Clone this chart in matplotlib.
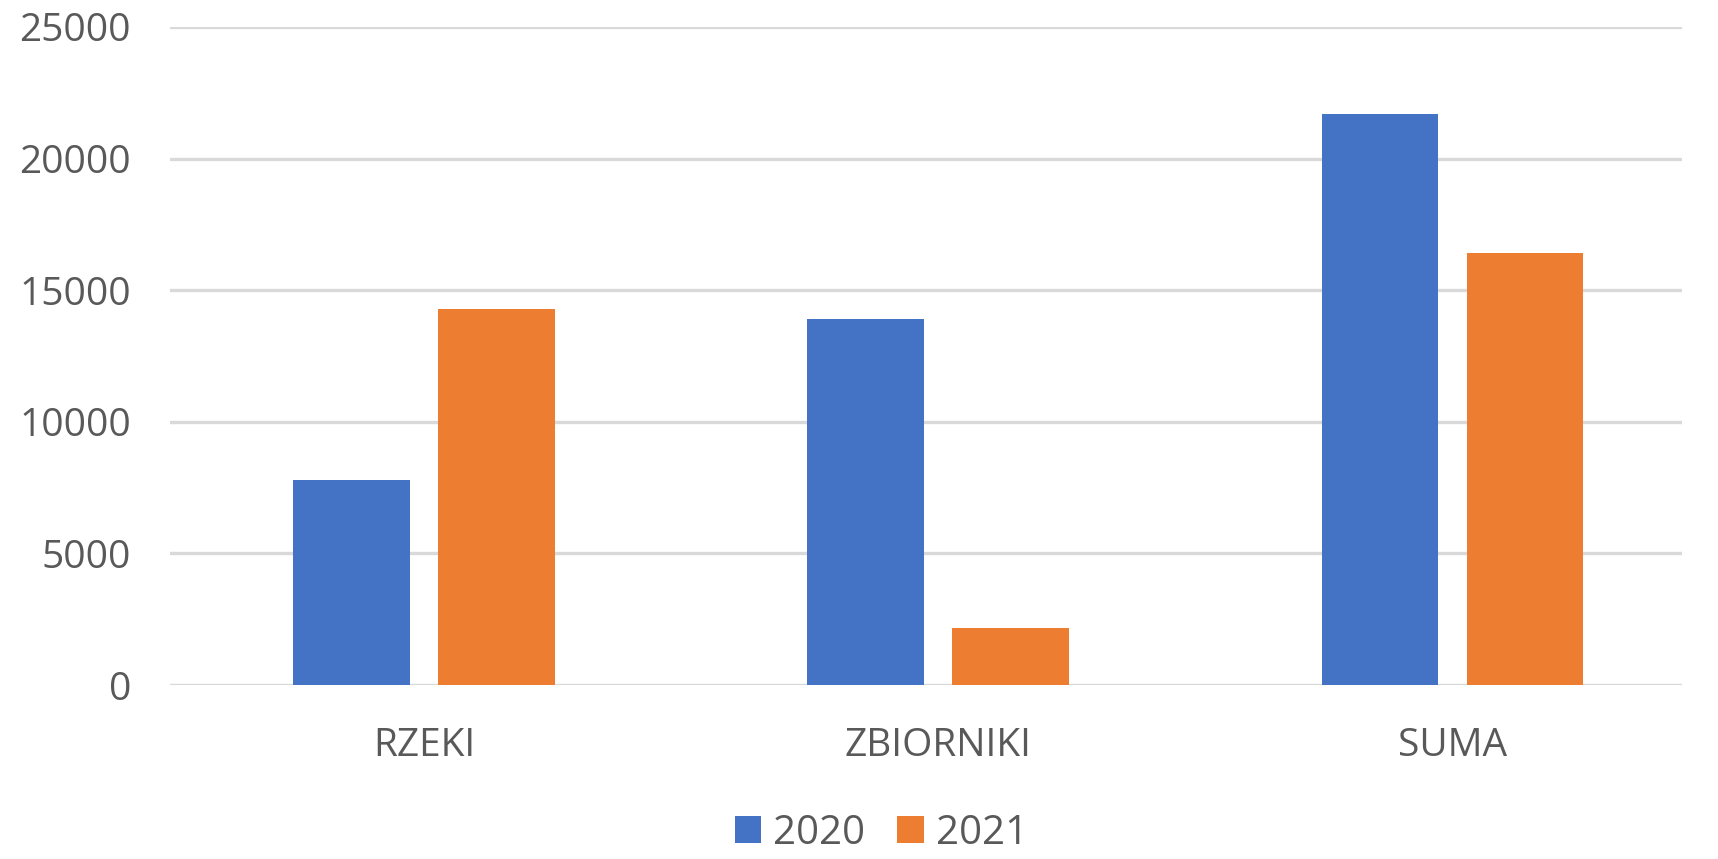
import matplotlib.pyplot as plt
import numpy as np

categories = ['RZEKI', 'ZBIORNIKI', 'SUMA']
years = ['2020', '2021']
values_2020 = [7780, 13900, 21690]
values_2021 = [14280, 2150, 16430]
y_ticks = [0, 5000, 10000, 15000, 20000, 25000]

blue = '#4472c4'
orange = '#ed7d31'
text_col = '#595959'

plt.rcParams['font.family'] = ['Open Sans', 'DejaVu Sans']

fig = plt.figure(figsize=(17.18, 8.59), dpi=100)
ax = fig.add_axes([170 / 1718, 1 - 685 / 859, 1512 / 1718, 658 / 859])

x = np.arange(len(categories))
w = 0.226
ax.bar(x - 0.141, values_2020, w, color=blue, label=years[0], zorder=3)
ax.bar(x + 0.141, values_2021, w, color=orange, label=years[1], zorder=3)

ax.set_xlim(-0.494, 2.447)
ax.set_ylim(0, 25000)
ax.set_yticks(y_ticks)
ax.set_yticklabels([str(v) for v in y_ticks])
ax.set_xticks(x)
ax.set_xticklabels(categories)
ax.tick_params(axis='y', length=0, labelsize=28, colors=text_col, pad=28)
ax.tick_params(axis='x', length=0, labelsize=28, colors=text_col, pad=30)
ax.grid(axis='y', color='#d9d9d9', linewidth=2.4, zorder=0)
ax.set_axisbelow(True)
for s in ax.spines.values():
    s.set_visible(False)

leg = fig.legend(loc='lower center', bbox_to_anchor=(0.513, -0.036), ncol=2, frameon=False,
                 fontsize=29, handlelength=0.65, handleheight=0.65, handletextpad=0.3,
                 columnspacing=0.8)
for t in leg.get_texts():
    t.set_color(text_col)

fig.savefig('out.png', dpi=100, facecolor='white')
